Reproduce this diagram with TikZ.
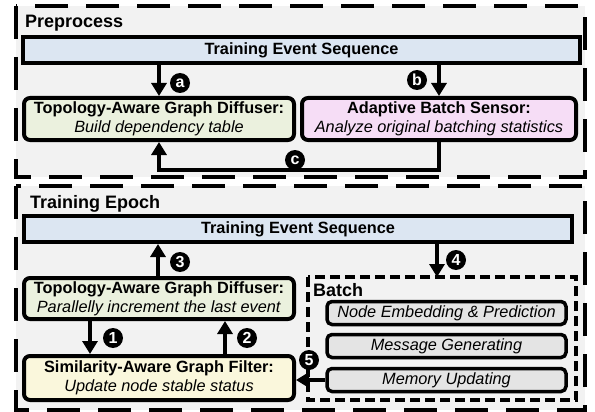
\documentclass[tikz,border=0pt]{standalone}
\usepackage{fontspec}
\setmainfont{Liberation Sans}
\usetikzlibrary{arrows.meta}
\definecolor{bggray}{HTML}{F2F2F2}
\definecolor{barblue}{HTML}{DCE6F2}
\definecolor{difgreen}{HTML}{EBF1DE}
\definecolor{senspink}{HTML}{F6DDF6}
\definecolor{filtyellow}{HTML}{FAF7DC}
\definecolor{boxgray}{HTML}{E4E4E4}
\begin{document}
\begin{tikzpicture}[x=1pt,y=-1pt,
  every node/.style={font=\fontsize{16.3}{19}\selectfont},
  outerbox/.style={draw=black, line width=4pt, dash pattern=on 33pt off 18pt, fill=bggray},
  batchbox/.style={draw=black, line width=3.5pt, dash pattern=on 10pt off 5pt},
  seqbar/.style={draw=black, line width=4pt, fill=barblue, inner sep=0pt, font=\fontsize{16.3}{19}\selectfont\bfseries},
  modbox/.style={draw=black, line width=4pt, rounded corners=6pt, inner sep=0pt, align=center},
  stagebox/.style={draw=black, line width=3.5pt, rounded corners=5pt, fill=boxgray, inner sep=0pt, minimum width=239pt, minimum height=23pt, font=\fontsize{16.3}{19}\selectfont\itshape},
  title/.style={anchor=west, inner sep=0pt, font=\fontsize{18}{20}\selectfont\bfseries},
  flow/.style={line width=4pt, -{Triangle[width=15pt,length=13pt]}},
  badge/.style={circle, fill=black, text=white, inner sep=0pt, minimum size=20pt, font=\fontsize{16}{16}\selectfont\bfseries}
]
\useasboundingbox (0,0) rectangle (595,412);
\fill[white] (0,0) rectangle (595,412);

% outer regions
\draw[outerbox] (16,6) rectangle (585,177);
\draw[outerbox] (16,186) rectangle (585,410);
\node[title] (pretitle) at (25,23) {Preprocess};
\node[title] (eptitle) at (30,204) {Training Epoch};

% ---------- Preprocess ----------
\node[seqbar, minimum width=557pt, minimum height=26pt] (bar1) at (301.5,50) {Training Event Sequence};
\node[modbox, fill=difgreen, minimum width=270pt, minimum height=42pt] (dif1) at (159,119)
  {\textbf{Topology-Aware Graph Diffuser:}\\\textit{Build dependency table}};
\node[modbox, fill=senspink, minimum width=274pt, minimum height=42pt] (sens) at (439,119)
  {\textbf{Adaptive Batch Sensor:}\\\textit{Analyze original batching statistics}};

\draw[flow] (dif1.north |- bar1.south) -- (dif1.north);
\draw[flow] (sens.north |- bar1.south) -- (sens.north);
\coordinate (cturn) at (439,170);
\draw[flow] (sens.south) -- (cturn) -- (dif1.south |- cturn) -- (dif1.south);
\node[badge] (ba) at (180,83) {a};
\node[badge] (bb) at (417,80) {b};
\node[badge] (bc) at (295,160) {c};

% ---------- Training Epoch ----------
\node[seqbar, minimum width=548pt, minimum height=26pt] (bar2) at (298,229) {Training Event Sequence};
\node[modbox, fill=difgreen, minimum width=270pt, minimum height=41pt] (dif2) at (159,298.5)
  {\textbf{Topology-Aware Graph Diffuser:}\\\textit{Parallelly increment the last event}};
\node[modbox, fill=filtyellow, minimum width=270pt, minimum height=44pt] (filt) at (159,378)
  {\textbf{Similarity-Aware Graph Filter:}\\\textit{Update node stable status}};

\draw[batchbox] (308,277) rectangle (576,400);
\coordinate (batchtop) at (437,277);
\node[title] (batchtitle) at (313,290) {Batch};
\node[stagebox] (emb) at (446.5,313) {Node Embedding \& Prediction};
\node[stagebox] (msg) at (446.5,346) {Message Generating};
\node[stagebox] (mem) at (446.5,380) {Memory Updating};

\draw[flow] (dif2.north -| 158,0) -- (bar2.south -| 158,0);
\draw[flow] (dif2.south -| 90,0) -- (filt.north -| 90,0);
\draw[flow] (filt.north -| 225,0) -- (dif2.south -| 225,0);
\draw[flow] (bar2.south -| batchtop) -- (batchtop);
\draw[flow] (mem.west) -- (filt.east |- mem.west);
\node[badge] (b3) at (180,262) {3};
\node[badge] (b1) at (113,338) {1};
\node[badge] (b2) at (247,338) {2};
\node[badge] (b4) at (456,260) {4};
\node[badge] (b5) at (309,360) {5};
\end{tikzpicture}
\end{document}
